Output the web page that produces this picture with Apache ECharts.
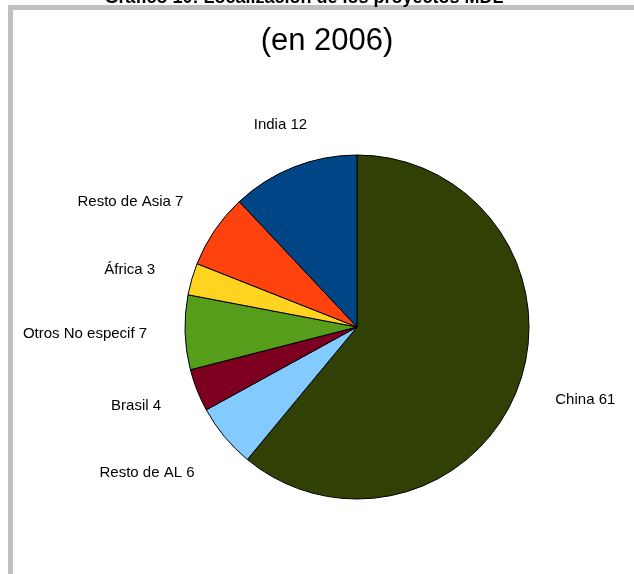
<!DOCTYPE html>
<html>
<head>
<meta charset="utf-8">
<script src="https://cdn.jsdelivr.net/npm/echarts@6/dist/echarts.min.js"></script>
<style>
html,body{margin:0;padding:0;background:#fff;}
#chart{width:634px;height:574px;}
</style>
</head>
<body>
<div id="chart"></div>
<script>
// Data
var categories = ['China', 'Resto de AL', 'Brasil', 'Otros No especif', 'África', 'Resto de Asia', 'India'];
var values = [61, 6, 4, 7, 3, 7, 12];
var colors = ['#314004', '#83caff', '#7e0021', '#579d1c', '#ffd320', '#ff420e', '#004586'];
var titleMain = 'Gráfico 10: Localización de los proyectos MDL';
var titleSub = '(en 2006)';

// label placement tuning (label line lengths, line hidden)
var labelLen = [43, 57, 43, 33, 32, 50, 45];
var labelLen2 = [-9, -19, -9, 0, 1, -15, -35];

var chart = echarts.init(document.getElementById('chart'), null, {renderer: 'canvas'});

var pieData = categories.map(function (name, i) {
  return {
    name: name,
    value: values[i],
    itemStyle: {color: colors[i]},
    labelLine: {show: false, length: labelLen[i], length2: labelLen2[i]}
  };
});

var option = {
  backgroundColor: '#ffffff',
  animation: false,
  graphic: [
    {
      type: 'rect',
      z: 0,
      shape: {x: 10.5, y: 7.5, width: 800, height: 800},
      style: {fill: 'none', stroke: '#c0c0c0', lineWidth: 5}
    },
    {
      type: 'text',
      z: 10,
      x: 304, y: -2,
      style: {
        text: titleMain,
        font: 'bold 18px "Liberation Sans", Arial, sans-serif',
        fill: '#000',
        align: 'center',
        verticalAlign: 'middle'
      }
    },
    {
      type: 'text',
      z: 10,
      x: 327, y: 41,
      style: {
        text: titleSub,
        font: '31px "Liberation Sans", Arial, sans-serif',
        fill: '#000',
        align: 'center',
        verticalAlign: 'middle'
      }
    }
  ],
  series: [{
    type: 'pie',
    center: [357, 327],
    radius: 172,
    startAngle: 90,
    clockwise: true,
    avoidLabelOverlap: false,
    itemStyle: {borderColor: '#000', borderWidth: 1},
    label: {
      show: true,
      position: 'outside',
      formatter: '{b} {c}',
      color: '#000',
      fontSize: 15,
      fontFamily: '"Liberation Sans", Arial, sans-serif',
      distanceToLabelLine: 5
    },
    labelLine: {show: false},
    emphasis: {disabled: true},
    data: pieData
  }]
};
chart.setOption(option);
</script>
</body>
</html>
